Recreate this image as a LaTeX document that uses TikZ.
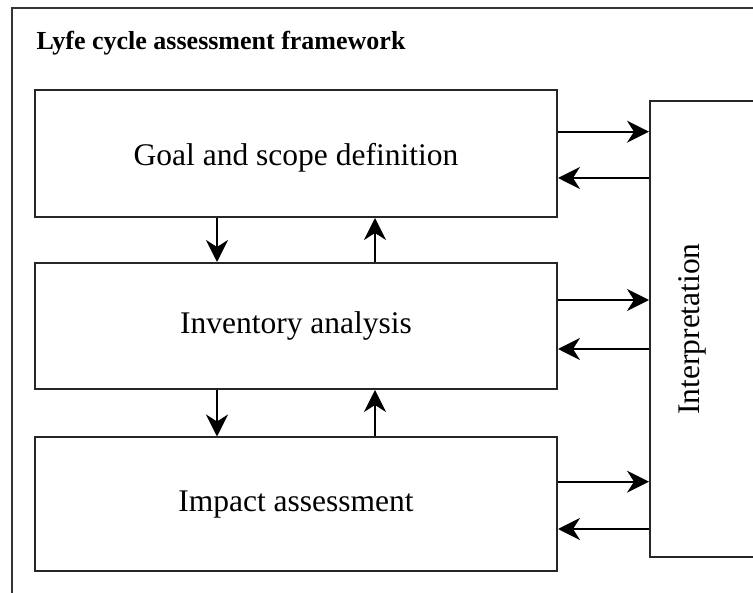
\documentclass[tikz,border=0pt]{standalone}
\usepackage{fontspec}
\setmainfont{Liberation Serif}
\usetikzlibrary{arrows.meta}

\tikzset{
  stage/.style={draw=black!85, line width=2pt, minimum width=522pt, inner sep=0pt,
    font=\fontsize{31.5}{36}\selectfont},
  flow/.style={line width=1.9pt, -{Stealth[length=22pt, width=22pt, inset=7pt]}}
}

\begin{document}
\begin{tikzpicture}[x=1pt, y=-1pt]

\path[use as bounding box] (0,0) rectangle (753,593);
\clip (0,0) rectangle (753,593);

% outer frame and heading
\draw[black!80, line width=2pt] (12,620) -- (12,8) -- (780,8);
\node[anchor=base west, font=\fontsize{26}{30}\selectfont\bfseries] (title) at (33,50) {Lyfe cycle assessment framework};

% the three stages
\node[stage, minimum height=127pt] (goal) at (296,153.5) {};
\node[font=\fontsize{31.5}{36}\selectfont] (goaltext) at (296,158) {Goal and scope definition};
\node[stage, minimum height=126pt] (inv) at (296,326) {Inventory analysis};
\node[stage, minimum height=134pt] (impact) at (296,504.5) {Impact assessment};

% interpretation column, runs past the right edge
\node[draw=black!85, line width=2pt, minimum width=110pt, minimum height=456pt, inner sep=0pt] (interp) at (705,329) {};
\node[rotate=90, font=\fontsize{31.5}{36}\selectfont] (interptext) at (692,329) {Interpretation};

% up and down between the stages
\coordinate (down) at (217,0);
\coordinate (up) at (375,0);
\draw[flow] (goal.south -| down) -- (inv.north -| down);
\draw[flow] (inv.north -| up) -- (goal.south -| up);
\draw[flow] (inv.south -| down) -- (impact.north -| down);
\draw[flow] (impact.north -| up) -- (inv.south -| up);

% to and from interpretation
\draw[flow] ([yshift=21.8pt]goal.east) -- ([yshift=21.8pt]goal.east -| interp.west);
\draw[flow] ([yshift=-24.5pt]goal.east -| interp.west) -- ([yshift=-24.5pt]goal.east);
\draw[flow] ([yshift=26pt]inv.east) -- ([yshift=26pt]inv.east -| interp.west);
\draw[flow] ([yshift=-23pt]inv.east -| interp.west) -- ([yshift=-23pt]inv.east);
\draw[flow] ([yshift=22.8pt]impact.east) -- ([yshift=22.8pt]impact.east -| interp.west);
\draw[flow] ([yshift=-24.5pt]impact.east -| interp.west) -- ([yshift=-24.5pt]impact.east);

\end{tikzpicture}
\end{document}
